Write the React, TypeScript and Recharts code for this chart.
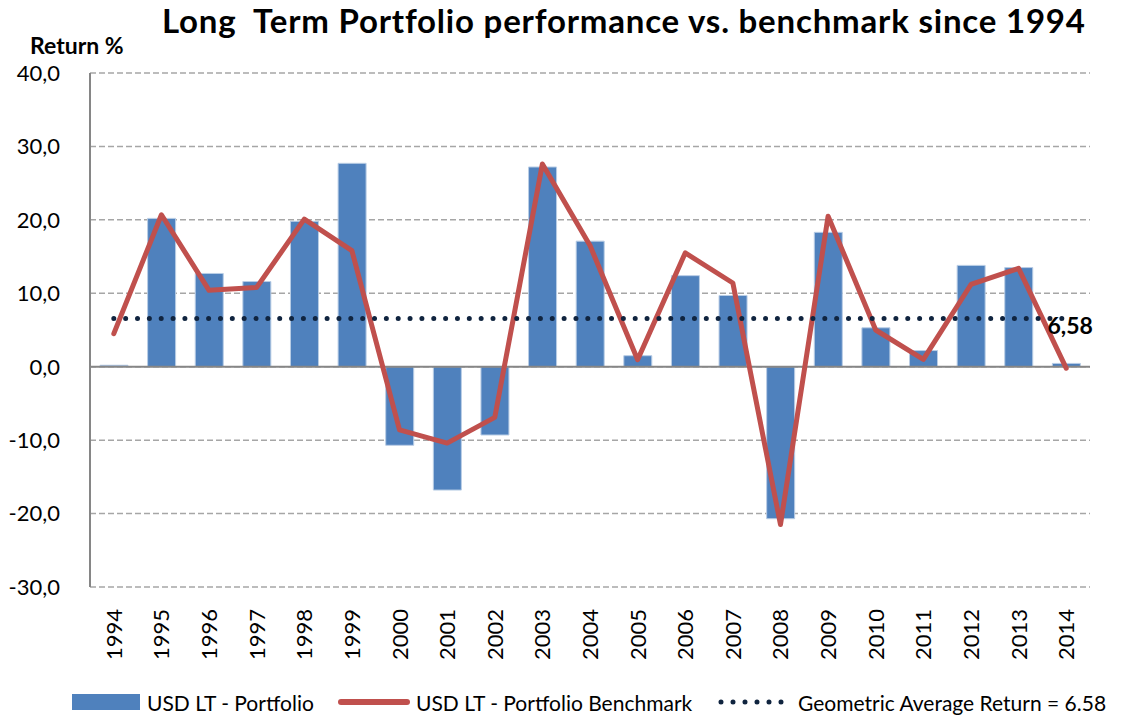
import React from "react";
import { ComposedChart, Bar, Line, XAxis, YAxis, CartesianGrid, ReferenceLine } from "recharts";

// data
const years = ["1994", "1995", "1996", "1997", "1998", "1999", "2000", "2001", "2002", "2003", "2004",
  "2005", "2006", "2007", "2008", "2009", "2010", "2011", "2012", "2013", "2014"];
const portfolio = [0.2, 20.2, 12.7, 11.6, 19.8, 27.7, -10.7, -16.8, -9.3, 27.2, 17.1,
  1.5, 12.4, 9.7, -20.7, 18.3, 5.3, 2.2, 13.8, 13.5, 0.45];
const benchmark = [4.5, 20.7, 10.4, 10.8, 20.1, 15.8, -8.6, -10.4, -6.9, 27.6, 16.5,
  0.95, 15.5, 11.4, -21.5, 20.5, 5.0, 1.0, 11.2, 13.4, -0.2];
const geoAvg = 6.58;
const yTicks = [-30, -20, -10, 0, 10, 20, 30, 40];

const FONT = "Lato, 'Open Sans', sans-serif";
const BLUE = "#4f81bd";
const RED = "#c0504d";
const NAVY = "#10243f";

const data = years.map((y, i) => ({
  year: y,
  portfolio: portfolio[i],
  benchmark: benchmark[i],
  avg: geoAvg,
}));

const fmt = (v: number) => v.toFixed(1).replace(".", ",");

function YearTick(props: any) {
  const { x, y, payload } = props;
  return (
    <text
      x={0}
      y={0}
      transform={`translate(${x + 8},${y + 14}) rotate(-90)`}
      textAnchor="end"
      fontSize={22}
      fontFamily={FONT}
      fill="#000"
    >
      {payload.value}
    </text>
  );
}

function AvgLabel(props: any) {
  const { x, y, index } = props;
  if (index !== years.length - 1) return null;
  return (
    <text x={x + 4} y={y + 16} textAnchor="middle" fontSize={23} fontWeight="bold" fontFamily={FONT} fill="#000">
      {String(geoAvg).replace(".", ",")}
    </text>
  );
}

function LegendRow() {
  const base = { position: "absolute", top: 690, display: "flex", alignItems: "center", height: 24 } as React.CSSProperties;
  return (
    <div style={{ fontFamily: FONT, fontSize: 21, color: "#000" }}>
      <div style={{ ...base, left: 72 }}>
        <div style={{ width: 68, height: 16, background: BLUE, marginRight: 7 }} />
        USD LT - Portfolio
      </div>
      <div style={{ ...base, left: 338 }}>
        <div style={{ width: 72, height: 6, background: RED, borderRadius: 3, marginRight: 6 }} />
        USD LT - Portfolio Benchmark
      </div>
      <div style={{ ...base, left: 718 }}>
        <svg width={70} height={10} style={{ marginRight: 10 }}>
          <line x1={3} y1={5} x2={66} y2={5} stroke={NAVY} strokeWidth={5} strokeDasharray="0 12" strokeLinecap="round" />
        </svg>
        Geometric Average Return = {geoAvg}
      </div>
    </div>
  );
}

export default function App() {
  return (
    <div style={{ position: "absolute", left: 0, top: 0, width: 1128, height: 717, background: "#fff" }}>
      <div
        style={{
          position: "absolute",
          left: 162,
          top: 0,
          fontFamily: FONT,
          fontWeight: "bold",
          fontSize: 33,
          letterSpacing: 0.8,
          whiteSpace: "pre",
        }}
      >
        {"Long  Term Portfolio performance vs. benchmark since 1994"}
      </div>
      <div
        style={{
          position: "absolute",
          left: 30,
          top: 31,
          fontFamily: FONT,
          fontWeight: "bold",
          fontSize: 23,
        }}
      >
        Return %
      </div>
      <ComposedChart
        width={1128}
        height={717}
        data={data}
        margin={{ top: 73, right: 38, bottom: 55, left: 0 }}
      >
        <CartesianGrid vertical={false} stroke="#a6a6a6" strokeDasharray="6 3" strokeWidth={1.5} />
        <XAxis
          dataKey="year"
          height={75}
          axisLine={false}
          tickLine={false}
          interval={0}
          tick={<YearTick />}
        />
        <YAxis
          width={90}
          domain={[-30, 40]}
          ticks={yTicks}
          tickFormatter={fmt}
          axisLine={{ stroke: "#868686", strokeWidth: 2 }}
          tickLine={false}
          tickMargin={24}
          tick={{ fontSize: 22, fontFamily: FONT, fill: "#000" }}
        />
        <ReferenceLine y={0} stroke="#868686" strokeWidth={2} />
        <Bar dataKey="portfolio" fill={BLUE} stroke="#b9cde5" strokeWidth={1} barSize={28} isAnimationActive={false} />
        <Line
          dataKey="benchmark"
          stroke={RED}
          strokeWidth={5}
          strokeLinecap="round"
          strokeLinejoin="round"
          dot={false}
          isAnimationActive={false}
        />
        <Line
          dataKey="avg"
          stroke={NAVY}
          strokeWidth={5}
          strokeDasharray="0 11.85"
          strokeLinecap="round"
          dot={false}
          label={<AvgLabel />}
          isAnimationActive={false}
        />
      </ComposedChart>
      <LegendRow />
    </div>
  );
}
